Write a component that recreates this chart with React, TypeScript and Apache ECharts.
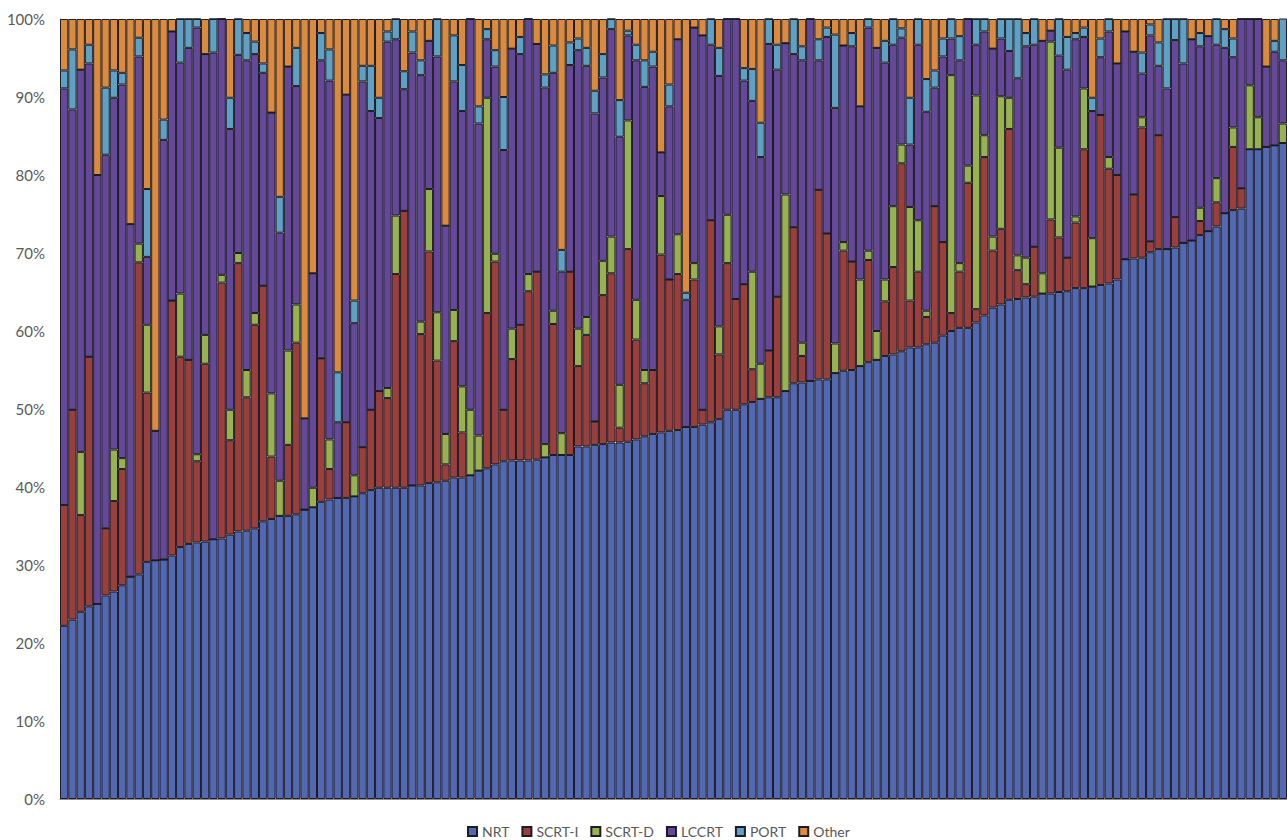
import React, { useEffect, useRef } from "react";
import * as echarts from "echarts";

const categories: string[] = [];
for (let i = 1; i <= 148; i++) categories.push(String(i));

const yTicks = [0, 10, 20, 30, 40, 50, 60, 70, 80, 90, 100];

const nrt = [
  22.2, 23.0, 24.0, 24.7, 25.0, 26.1, 26.6, 27.4, 28.5, 28.8,
  30.4, 30.6, 30.7, 31.2, 32.3, 32.7, 32.9, 33.0, 33.3, 33.4,
  33.9, 34.3, 34.4, 34.7, 35.6, 35.9, 36.3, 36.3, 36.5, 37.1,
  37.4, 38.1, 38.4, 38.6, 38.6, 38.8, 39.2, 39.6, 39.9, 39.9,
  39.9, 39.9, 40.2, 40.2, 40.5, 40.6, 40.8, 41.2, 41.2, 41.5,
  42.1, 42.4, 42.9, 43.3, 43.4, 43.4, 43.4, 43.5, 43.8, 44.1,
  44.1, 44.1, 45.2, 45.2, 45.4, 45.5, 45.7, 45.7, 45.8, 46.1,
  46.5, 46.8, 47.0, 47.2, 47.3, 47.7, 47.7, 48.0, 48.3, 48.7,
  49.9, 49.9, 50.6, 50.9, 51.3, 51.5, 51.5, 52.3, 53.3, 53.4,
  53.6, 53.8, 53.8, 54.6, 54.9, 55.0, 55.5, 56.0, 56.3, 56.8,
  57.0, 57.4, 57.9, 57.9, 58.3, 58.5, 59.4, 60.0, 60.4, 60.4,
  61.1, 62.0, 63.0, 63.4, 64.0, 64.1, 64.3, 64.4, 64.8, 64.8,
  65.0, 65.1, 65.5, 65.5, 65.7, 65.9, 66.1, 66.6, 69.2, 69.3,
  69.4, 70.1, 70.5, 70.5, 70.7, 71.3, 71.6, 72.3, 72.8, 73.4,
  75.1, 75.5, 75.7, 83.3, 83.3, 83.6, 83.8, 84.1,
];

const scrtI = [
  15.5, 26.9, 12.4, 32.0, 0, 8.6, 11.6, 14.9, 0, 40.0,
  21.7, 0, 0, 32.7, 24.4, 23.6, 10.4, 22.8, 0, 32.8,
  12.1, 34.4, 17.1, 26.1, 30.2, 8.0, 0, 9.1, 22.0, 0,
  0, 18.4, 3.9, 0, 9.7, 0, 5.9, 10.3, 12.4, 11.5,
  27.4, 35.5, 0, 19.4, 29.7, 15.6, 2.1, 17.5, 5.8, 0,
  0, 19.9, 26.0, 6.6, 13.0, 17.4, 21.7, 24.1, 0, 16.8,
  0, 23.5, 10.3, 14.3, 3.0, 19.1, 21.7, 1.9, 24.7, 12.8,
  6.8, 8.2, 22.8, 19.4, 20.0, 0, 18.9, 1.9, 25.9, 8.3,
  18.8, 14.2, 15.4, 4.2, 0, 6.0, 12.9, 0, 20.0, 3.4,
  0, 24.3, 18.7, 0, 15.4, 13.9, 0, 13.1, 0, 7.0,
  11.2, 24.1, 6.0, 9.7, 3.5, 17.5, 12.0, 2.3, 7.2, 18.6,
  1.7, 20.3, 7.3, 9.7, 21.9, 3.7, 1.7, 6.4, 0, 9.5,
  7.0, 4.3, 8.4, 17.8, 0, 21.8, 14.7, 13.4, 0, 8.2,
  16.7, 1.4, 14.6, 0, 3.9, 0, 0, 1.8, 0, 3.1,
  0, 8.1, 2.6, 0, 0, 0, 0, 0,
];

const scrtD = [
  0, 0, 8.1, 0, 0, 0, 6.6, 1.4, 0, 2.4,
  8.7, 0, 0, 0, 8.1, 0, 0.9, 3.7, 0, 1.0,
  3.9, 1.3, 3.5, 1.5, 0, 8.1, 4.5, 12.1, 4.9, 0,
  2.5, 0, 3.8, 0, 0, 2.7, 0, 0, 0, 1.3,
  7.5, 0, 0, 1.6, 8.0, 6.2, 3.9, 4.0, 5.9, 8.4,
  4.5, 27.6, 1.0, 0, 3.9, 0, 2.2, 0, 1.7, 1.7,
  2.8, 0, 4.8, 2.3, 0, 4.4, 4.7, 5.5, 16.5, 5.1,
  1.7, 0, 7.5, 0, 5.1, 0, 2.1, 0, 0, 3.6,
  6.2, 0, 0, 12.5, 4.5, 0, 0, 25.2, 0, 1.7,
  0, 0, 0, 3.8, 1.1, 0, 11.1, 1.2, 3.7, 2.8,
  7.8, 2.4, 12.0, 6.6, 0.8, 0, 0, 30.5, 1.1, 2.2,
  27.4, 2.8, 1.8, 17.0, 4.0, 1.9, 3.4, 0, 2.6, 22.8,
  11.5, 0, 0.8, 7.8, 6.2, 0, 1.5, 0, 0, 0,
  1.3, 0, 0, 0, 0, 0, 0, 1.7, 0, 3.1,
  0, 2.5, 0, 8.2, 4.1, 0, 0, 2.5,
];

const lccrt = [
  53.4, 38.5, 49.0, 37.6, 55.0, 47.9, 45.1, 47.9, 45.2, 24.0,
  8.7, 16.6, 53.8, 34.5, 29.6, 40.0, 54.7, 36.0, 62.4, 32.8,
  36.0, 25.4, 39.7, 33.2, 27.3, 36.0, 31.8, 36.4, 28.0, 11.7,
  27.5, 38.2, 46.0, 9.7, 42.0, 19.5, 46.9, 38.3, 35.0, 44.4,
  22.6, 15.6, 55.5, 31.6, 19.0, 32.8, 26.7, 29.3, 35.3, 50.1,
  40.0, 7.5, 24.0, 33.3, 35.9, 34.7, 32.7, 29.2, 45.7, 30.5,
  20.7, 26.5, 35.7, 32.2, 39.5, 23.5, 26.6, 31.8, 10.9, 30.7,
  36.3, 38.9, 5.6, 22.2, 25.0, 16.3, 30.2, 48.0, 22.5, 32.1,
  25.1, 35.9, 26.1, 21.9, 26.5, 39.3, 29.1, 19.4, 22.2, 36.2,
  46.4, 16.6, 25.2, 30.2, 25.2, 27.6, 22.2, 28.6, 36.3, 27.8,
  20.7, 13.7, 8.0, 22.5, 25.5, 15.2, 23.8, 4.7, 26.0, 18.8,
  6.5, 13.3, 24.1, 7.4, 6.0, 22.7, 27.1, 25.9, 29.8, 1.4,
  11.8, 24.1, 22.7, 6.6, 16.3, 7.4, 16.1, 14.3, 29.2, 18.3,
  5.6, 26.4, 8.9, 20.6, 22.7, 23.0, 25.8, 20.7, 25.0, 17.1,
  21.2, 9.0, 21.7, 8.5, 12.6, 10.3, 12.0, 8.1,
];

const port = [
  2.3, 7.7, 0, 2.4, 0, 8.6, 3.5, 1.5, 0, 2.4,
  8.7, 0, 2.6, 0, 5.6, 3.7, 1.1, 0, 4.3, 0,
  4.0, 4.6, 3.5, 1.6, 1.2, 0, 4.6, 0, 4.9, 0,
  0, 3.5, 4.0, 6.4, 0, 2.9, 2.0, 5.8, 2.6, 1.3,
  2.6, 2.3, 2.7, 1.9, 0, 4.8, 0, 5.9, 5.9, 0,
  2.2, 1.3, 2.1, 6.8, 0, 2.2, 0, 0, 1.7, 3.5,
  2.8, 2.9, 1.5, 2.3, 2.9, 3.0, 1.3, 4.7, 0.6, 2.0,
  3.4, 1.9, 0, 2.8, 0, 0.9, 0, 0, 3.3, 3.6,
  0, 0, 1.6, 4.1, 4.4, 3.2, 3.2, 0, 4.5, 1.8,
  0, 2.7, 1.2, 9.4, 0, 1.7, 0, 1.1, 0, 2.8,
  3.3, 1.2, 6.0, 3.3, 4.2, 2.2, 2.3, 2.5, 3.1, 0,
  3.3, 1.6, 0, 2.5, 4.1, 7.6, 1.7, 3.3, 0, 0,
  4.7, 4.2, 0.8, 1.2, 1.7, 2.4, 1.6, 0, 0, 0,
  2.7, 1.4, 3.0, 8.9, 2.7, 5.7, 0, 1.7, 0, 3.3,
  2.4, 2.4, 0, 0, 0, 0, 1.4, 5.4,
];

const other = [
  6.6, 3.9, 6.5, 3.3, 20.0, 8.8, 6.6, 6.9, 26.3, 2.4,
  21.8, 52.8, 12.9, 1.6, 0, 0, 0, 4.5, 0, 0,
  10.1, 0, 1.8, 2.9, 5.7, 12.0, 22.8, 6.1, 3.7, 51.2,
  32.6, 1.8, 3.9, 45.3, 9.7, 36.1, 6.0, 6.0, 10.1, 1.6,
  0, 6.7, 1.6, 5.3, 2.8, 0, 26.5, 2.1, 5.9, 0,
  11.2, 1.3, 4.0, 10.0, 3.8, 2.3, 0, 3.2, 7.1, 3.4,
  29.6, 3.0, 2.5, 3.7, 9.2, 4.5, 0, 10.4, 1.5, 3.3,
  5.3, 4.2, 17.1, 8.4, 2.6, 35.1, 1.1, 2.1, 0, 3.7,
  0, 0, 6.3, 6.4, 13.3, 0, 3.3, 3.1, 0, 3.5,
  0, 2.6, 1.1, 2.0, 3.4, 1.8, 11.2, 0, 3.7, 2.8,
  0, 1.2, 10.1, 0, 7.7, 6.6, 2.5, 0, 2.2, 0,
  0, 0, 3.8, 0, 0, 0, 1.8, 0, 2.8, 1.5,
  0, 2.3, 1.8, 1.1, 10.1, 2.5, 0, 5.7, 1.6, 4.2,
  4.3, 0.7, 3.0, 0, 0, 0, 2.6, 1.8, 2.2, 0,
  1.3, 2.5, 0, 0, 0, 6.1, 2.8, 0,
];

const seriesNames = ["NRT", "SCRT-I", "SCRT-D", "LCCRT", "PORT", "Other"];
const seriesValues = [nrt, scrtI, scrtD, lccrt, port, other];
const seriesColors = ["#5368B2", "#9B3F3D", "#97B24F", "#66489A", "#5FA1C5", "#DC8B3E"];

export default function App() {
  const ref = useRef<HTMLDivElement>(null);
  useEffect(() => {
    if (!ref.current) return;
    const chart = echarts.init(ref.current, undefined, { renderer: "svg" });
    chart.setOption({
      animation: false,
      textStyle: { fontFamily: "Lato, 'Open Sans', sans-serif" },
      grid: { left: 60, right: 0, top: 19, bottom: 41, containLabel: false },
      legend: {
        data: seriesNames,
        left: 467,
        top: 824,
        padding: 0,
        itemWidth: 9,
        itemHeight: 9,
        itemGap: 12,
        icon: "rect",
        textStyle: { fontSize: 14, lineHeight: 15, color: "#595959" },
      },
      xAxis: {
        type: "category",
        data: categories,
        axisLine: { show: true, lineStyle: { color: "#8c8c8c", width: 1 } },
        axisTick: { show: false },
        axisLabel: { show: false },
        splitLine: { show: false },
      },
      yAxis: {
        type: "value",
        min: yTicks[0],
        max: yTicks[yTicks.length - 1],
        interval: 10,
        axisLine: { show: true, lineStyle: { color: "#8c8c8c", width: 1 } },
        axisTick: { show: false },
        splitLine: { show: false },
        axisLabel: {
          formatter: "{value}%",
          fontSize: 15,
          color: "#595959",
          margin: 15,
        },
      },
      series: seriesNames.map((name, i) => ({
        name,
        type: "bar",
        stack: "total",
        barCategoryGap: "0%",
        data: seriesValues[i],
        itemStyle: { color: seriesColors[i], borderColor: "#1c1c24", borderWidth: 1 },
        emphasis: { disabled: true },
      })),
    });
    return () => chart.dispose();
  }, []);
  return (
    <div
      ref={ref}
      style={{ position: "fixed", left: 0, top: 0, width: 1287, height: 840, background: "#fff" }}
    />
  );
}
